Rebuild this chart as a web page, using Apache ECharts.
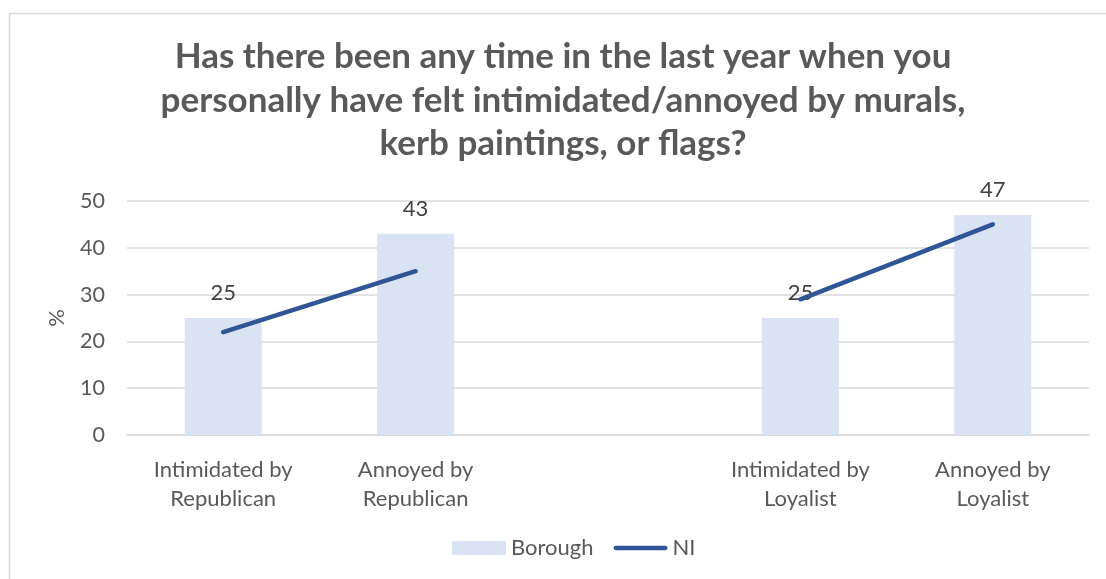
<!DOCTYPE html>
<html>
<head>
<meta charset="utf-8">
<script src="https://cdn.jsdelivr.net/npm/echarts@6/dist/echarts.min.js"></script>
<style>
html,body{margin:0;padding:0;background:#fff;}
#chart{width:1106px;height:579px;}
</style>
</head>
<body>
<div id="chart"></div>
<script>
const titleText = 'Has there been any time in the last year when you\npersonally have felt intimidated/annoyed by murals,\nkerb paintings, or flags?';
const categories = ['Intimidated by\nRepublican', 'Annoyed by\nRepublican', '', 'Intimidated by\nLoyalist', 'Annoyed by\nLoyalist'];
const boroughValues = [25, 43, null, 25, 47];
const niValues = [22, 35, null, 29, 45];
const yTicks = { min: 0, max: 50, interval: 10 };

const font = 'Lato, "Open Sans", "Liberation Sans", sans-serif';
const lineIcon = 'path://M2.25,0 L54.75,0 A2.25,2.25 0 0 1 54.75,4.5 L2.25,4.5 A2.25,2.25 0 0 1 2.25,0 Z';
const chart = echarts.init(document.getElementById('chart'), null, { renderer: 'canvas' });
chart.setOption({
  backgroundColor: '#ffffff',
  animation: false,
  graphic: [{
    type: 'rect', left: 7, top: 11, shape: { width: 1200, height: 700 },
    style: { fill: 'none', stroke: '#d9d9d9', lineWidth: 1.5 }, silent: true, z: -1
  }],
  title: {
    text: titleText, left: 558, top: 30, textAlign: 'center',
    textStyle: { fontFamily: font, fontWeight: 'bold', fontSize: 35, color: '#595959', lineHeight: 43.5 }
  },
  legend: {
    bottom: 15, left: 447, itemGap: 20, itemWidth: 54, itemHeight: 14,
    textStyle: { fontFamily: font, fontSize: 22, color: '#595959' },
    data: [{ name: 'Borough', icon: 'rect' }, { name: 'NI', icon: lineIcon }]
  },
  grid: { left: 127, right: 17, top: 201, bottom: 144, containLabel: false },
  xAxis: {
    type: 'category', data: categories,
    axisLine: { lineStyle: { color: '#d9d9d9', width: 1.5 } },
    axisTick: { show: false },
    axisLabel: { fontFamily: font, fontSize: 22, color: '#595959', lineHeight: 29, margin: 20, interval: 0 }
  },
  yAxis: {
    type: 'value', min: yTicks.min, max: yTicks.max, interval: yTicks.interval,
    name: '%', nameLocation: 'middle', nameGap: 59, nameRotate: 90,
    nameTextStyle: { fontFamily: font, fontSize: 22, color: '#595959' },
    axisLine: { show: false }, axisTick: { show: false },
    axisLabel: { fontFamily: font, fontSize: 21.5, color: '#595959', margin: 22 },
    splitLine: { lineStyle: { color: '#d9d9d9', width: 1.5 } }
  },
  series: [{
    name: 'Borough', type: 'bar', data: boroughValues, barWidth: '40%',
    itemStyle: { color: '#DAE3F3' },
    label: { show: true, position: 'top', distance: 14, fontFamily: font, fontSize: 22, color: '#404040' }
  }, {
    name: 'NI', type: 'line', data: niValues, connectNulls: false,
    symbol: 'none', showSymbol: false,
    lineStyle: { color: '#2F5597', width: 4.5, cap: 'round', join: 'round' },
    itemStyle: { color: '#2F5597' }, z: 5
  }]
});
</script>
</body>
</html>
